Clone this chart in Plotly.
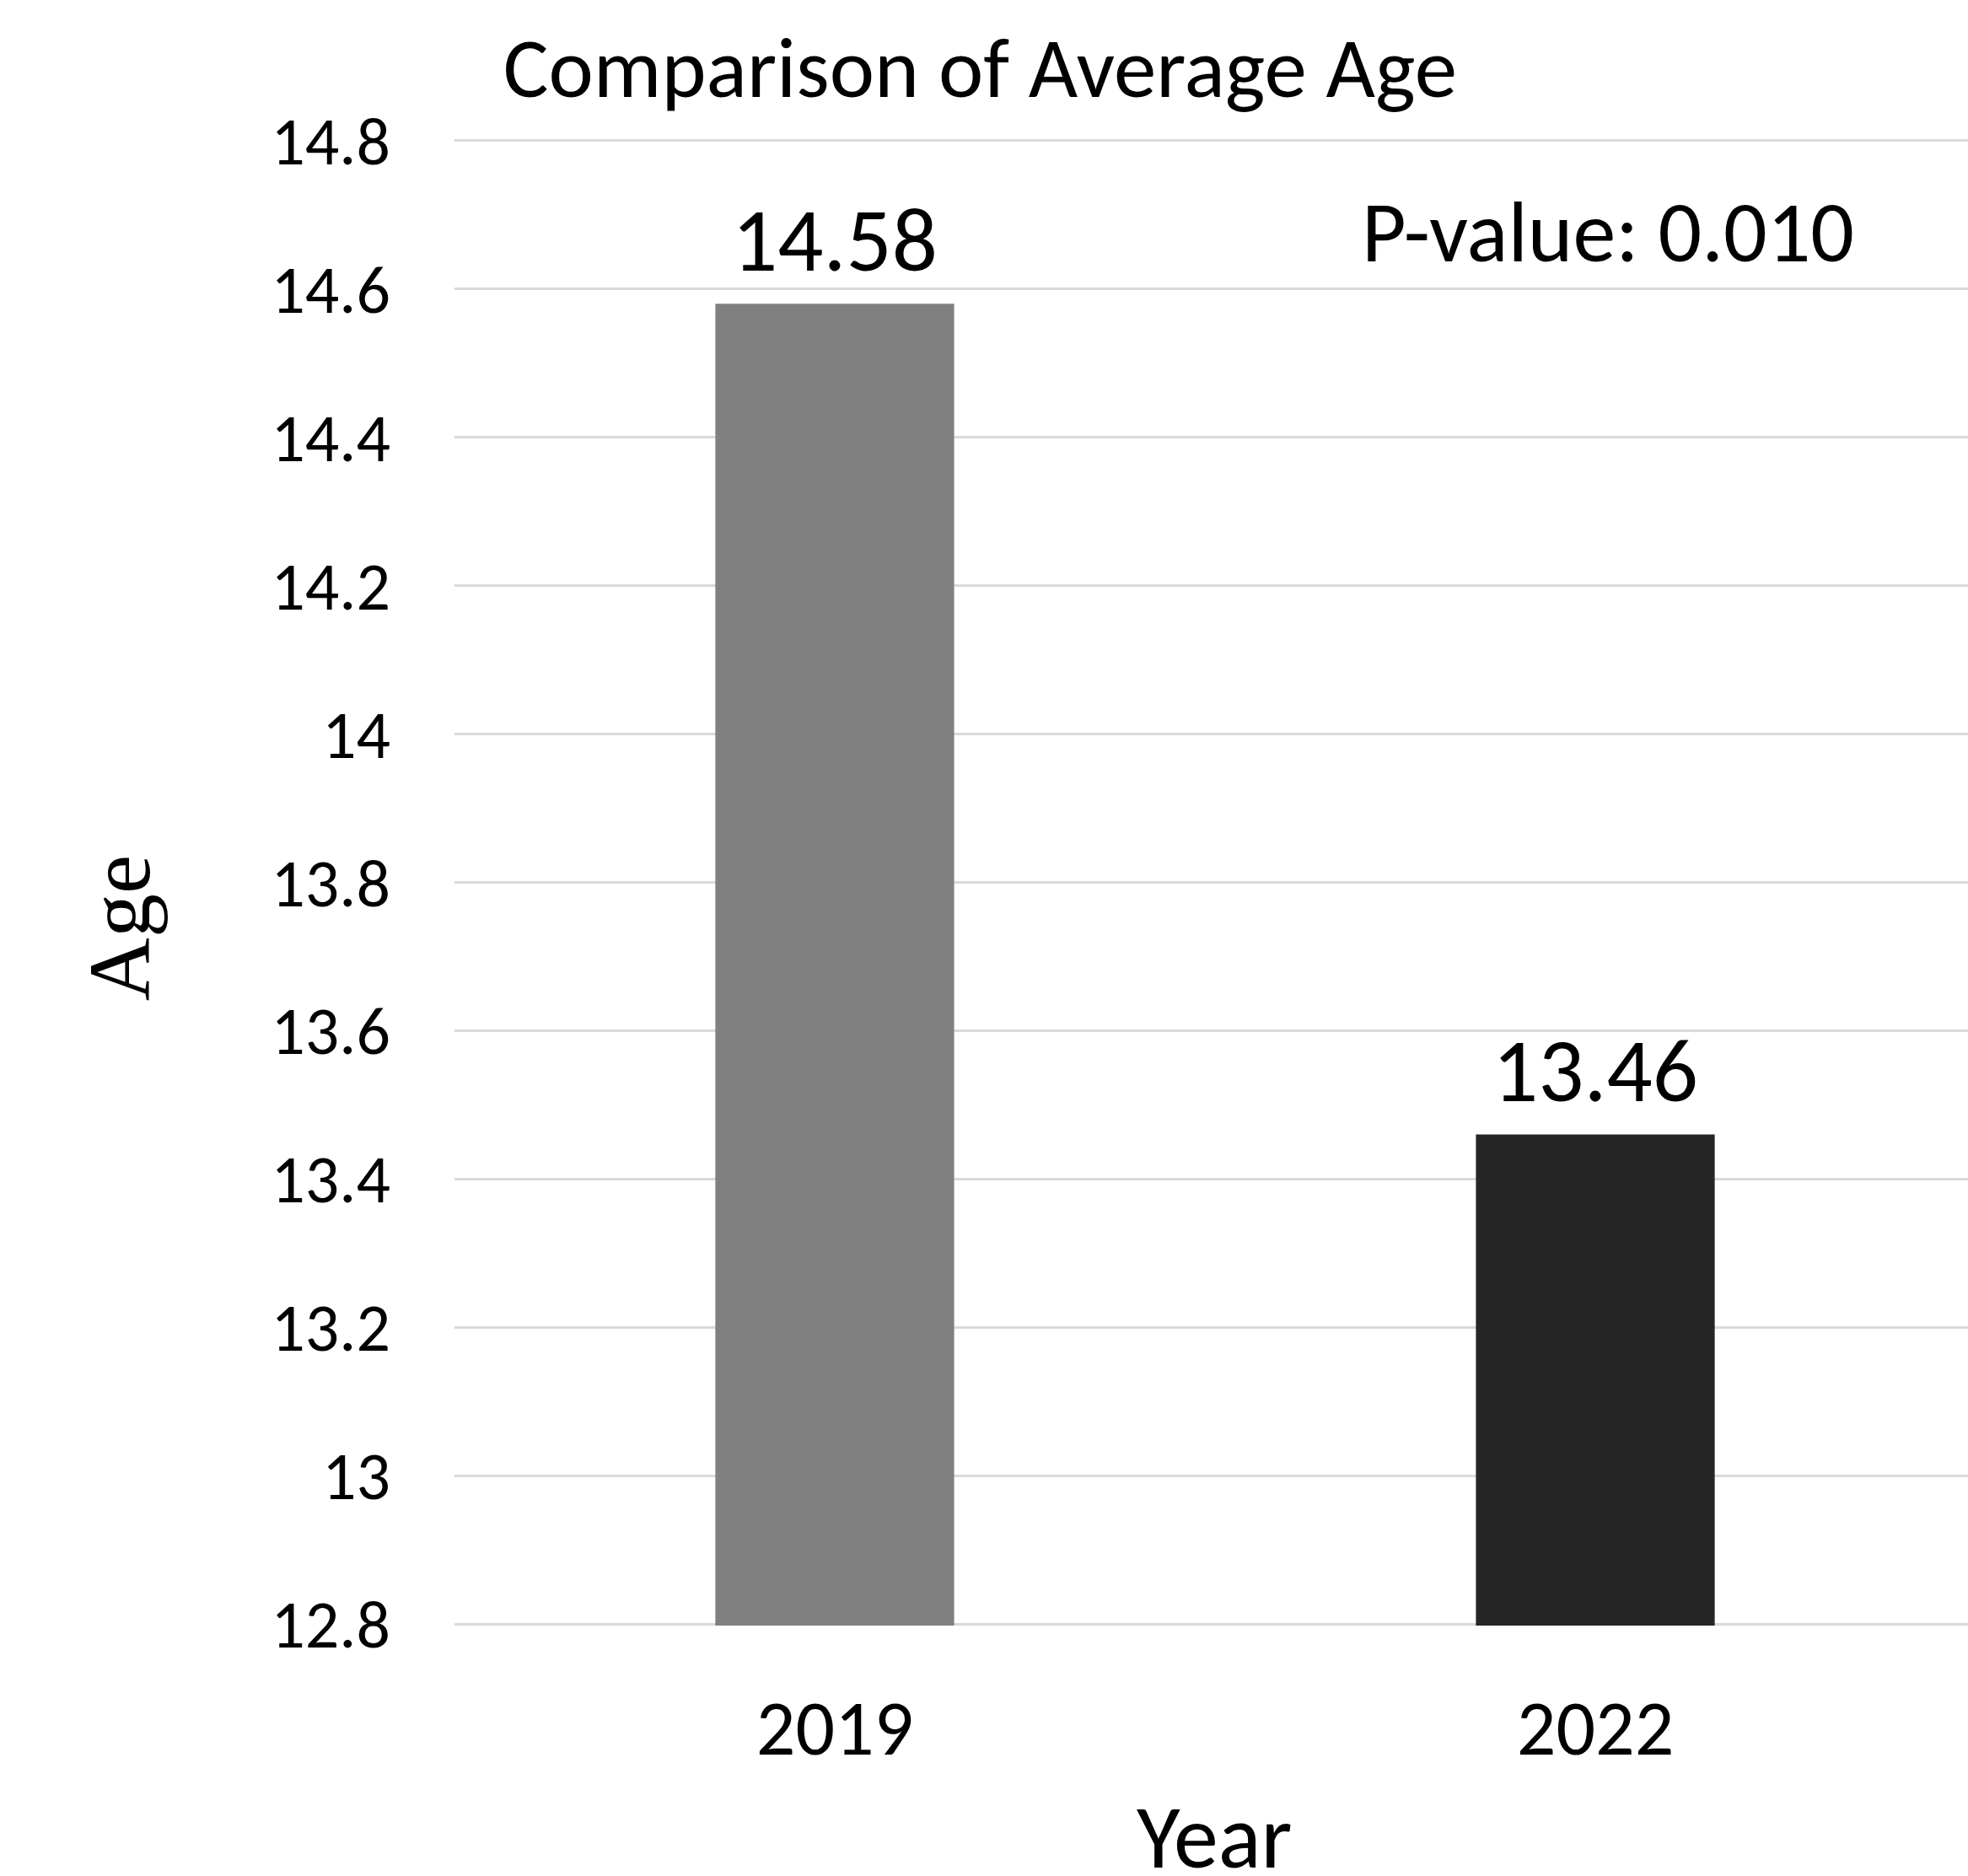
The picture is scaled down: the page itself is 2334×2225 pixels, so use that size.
import plotly.graph_objects as go

# Average age by survey year
years = ["2019", "2022"]
avg_age = [14.58, 13.46]
bar_colors = ["#808080", "#262626"]
p_value_text = "P-value: 0.010"

y_min, y_max, y_step = 12.8, 14.8, 0.2

SANS = "Carlito, 'Liberation Sans Narrow', 'Open Sans', sans-serif"
SERIF = "'Liberation Serif', 'DejaVu Serif', serif"

fig = go.Figure(
    go.Bar(
        x=list(range(len(years))),
        y=avg_age,
        marker=dict(color=bar_colors, line=dict(width=0)),
        width=0.314,
        hoverinfo="skip",
    )
)

# value labels above each bar
for i, v in enumerate(avg_age):
    fig.add_annotation(
        x=i, y=v, xref="x", yref="y",
        text=f"{v:.2f}", showarrow=False,
        yanchor="middle", yshift=76,
        font=dict(family=SANS, size=107, color="#000000"),
    )

fig.add_annotation(
    x=0.762, y=0.9376, xref="paper", yref="paper",
    text=p_value_text, showarrow=False,
    xanchor="center", yanchor="middle",
    font=dict(family=SANS, size=102, color="#000000"),
)

# axis titles
fig.add_annotation(
    x=0.5025, y=-0.142, xref="paper", yref="paper",
    text="Year", showarrow=False,
    xanchor="center", yanchor="middle",
    font=dict(family=SANS, size=106, color="#000000"),
)
fig.add_annotation(
    x=-0.2217, y=0.469, xref="paper", yref="paper",
    text="Age", showarrow=False, textangle=-90,
    xanchor="center", yanchor="middle",
    font=dict(family=SERIF, size=104, color="#000000"),
)

fig.update_layout(
    width=2334,
    height=2225,
    margin=dict(l=539, r=0, t=165, b=297),
    paper_bgcolor="#ffffff",
    plot_bgcolor="#ffffff",
    showlegend=False,
    title=dict(
        text="Comparison of Average Age",
        xref="container", yref="container",
        x=0.498, y=1 - 80 / 2225,
        xanchor="center", yanchor="middle",
        font=dict(family=SANS, size=101, color="#000000"),
    ),
    xaxis=dict(
        range=[-0.5, len(years) - 0.51],
        tickmode="array",
        tickvals=list(range(len(years))),
        ticktext=years,
        showgrid=False,
        showline=False,
        zeroline=False,
        ticks="",
        ticklabelstandoff=60,
        tickfont=dict(family=SANS, size=92, color="#000000"),
    ),
    yaxis=dict(
        range=[y_min - 0.002, y_max + 0.002],
        dtick=y_step,
        tick0=y_min,
        showgrid=True,
        gridcolor="#d9d9d9",
        gridwidth=2.5,
        zeroline=False,
        showline=False,
        ticks="",
        ticklabelstandoff=75,
        tickfont=dict(family=SANS, size=80, color="#000000"),
    ),
)

fig.write_html("out.html")
